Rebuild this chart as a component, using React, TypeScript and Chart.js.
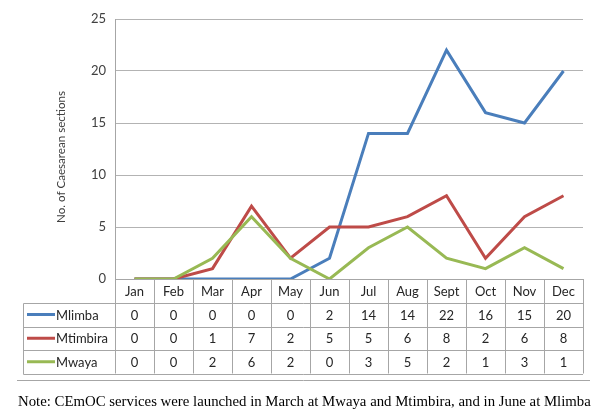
import React, { useEffect, useRef } from "react";
import { Chart, registerables } from "chart.js";

Chart.register(...registerables);

const months = ["Jan", "Feb", "Mar", "Apr", "May", "Jun", "Jul", "Aug", "Sept", "Oct", "Nov", "Dec"];
const mlimba = [0, 0, 0, 0, 0, 2, 14, 14, 22, 16, 15, 20];
const mtimbira = [0, 0, 1, 7, 2, 5, 5, 6, 8, 2, 6, 8];
const mwaya = [0, 0, 2, 6, 2, 0, 3, 5, 2, 1, 3, 1];
const seriesNames = ["Mlimba", "Mtimbira", "Mwaya"];
const seriesColors = ["#4A7EBB", "#BE4B48", "#98B954"];
const yTitle = "No. of Caesarean sections";
const note = "Note: CEmOC services were launched in March at Mwaya and Mtimbira, and in June at Mlimba";

const FONT = "Lato, 'Open Sans', sans-serif";

const tablePlugin = {
  id: "dataTable",
  afterDraw(chart: any) {
    const ctx = chart.ctx as CanvasRenderingContext2D;
    const x = chart.scales.x;
    const area = chart.chartArea;
    const series = [mlimba, mtimbira, mwaya];
    const left = area.left;
    const right = area.right;
    const top = area.bottom;
    const rowH = [23.5, 24, 23.5, 23.5];
    const rowsY = [top];
    for (const h of rowH) rowsY.push(rowsY[rowsY.length - 1] + h);
    const legendLeft = 23.5;
    const colW = (right - left) / months.length;

    ctx.save();
    ctx.save();
    ctx.translate(61, 157);
    ctx.rotate(-Math.PI / 2);
    ctx.font = `11.6px ${FONT}`;
    ctx.fillStyle = "#404040";
    ctx.textAlign = "center";
    ctx.textBaseline = "middle";
    ctx.fillText(yTitle, 0, 0);
    ctx.restore();

    ctx.strokeStyle = "#A6A6A6";
    ctx.lineWidth = 1;
    ctx.beginPath();
    ctx.moveTo(left, Math.round(rowsY[0]) + 0.5);
    ctx.lineTo(right, Math.round(rowsY[0]) + 0.5);
    for (let r = 1; r < rowsY.length; r++) {
      const yy = Math.round(rowsY[r]) + 0.5;
      ctx.moveTo(legendLeft, yy);
      ctx.lineTo(right, yy);
    }
    for (let i = 0; i <= months.length; i++) {
      const xx = Math.round(left + i * colW) + 0.5;
      ctx.moveTo(xx, rowsY[0]);
      ctx.lineTo(xx, rowsY[rowsY.length - 1]);
    }
    ctx.moveTo(legendLeft, Math.round(rowsY[1]) + 0.5);
    ctx.lineTo(legendLeft, Math.round(rowsY[rowsY.length - 1]) + 0.5);
    ctx.stroke();

    ctx.font = `13px ${FONT}`;
    ctx.textBaseline = "middle";
    ctx.fillStyle = "#262626";
    ctx.textAlign = "center";
    months.forEach((m, i) => {
      const cx = x.getPixelForValue(i);
      ctx.fillText(m, cx, (rowsY[0] + rowsY[1]) / 2 + 1);
    });
    series.forEach((vals, r) => {
      const cy = (rowsY[r + 1] + rowsY[r + 2]) / 2 + 1;
      ctx.textAlign = "center";
      ctx.fillStyle = "#262626";
      vals.forEach((v, i) => {
        ctx.fillText(String(v), x.getPixelForValue(i), cy);
      });
      ctx.strokeStyle = seriesColors[r];
      ctx.lineWidth = 3;
      ctx.beginPath();
      ctx.moveTo(27, cy - 1);
      ctx.lineTo(55, cy - 1);
      ctx.stroke();
      ctx.textAlign = "left";
      ctx.fillText(seriesNames[r], 56, cy);
    });

    ctx.strokeStyle = "#A6A6A6";
    ctx.lineWidth = 1;
    ctx.beginPath();
    ctx.moveTo(17, 380.5);
    ctx.lineTo(590, 380.5);
    ctx.stroke();
    ctx.restore();
  },
};

export default function App() {
  const ref = useRef<HTMLCanvasElement>(null);
  useEffect(() => {
    if (!ref.current) return;
    const chart = new Chart(ref.current, {
      type: "line",
      data: {
        labels: months,
        datasets: [
          { label: seriesNames[0], data: mlimba, borderColor: seriesColors[0], order: 3 },
          { label: seriesNames[1], data: mtimbira, borderColor: seriesColors[1], order: 2 },
          { label: seriesNames[2], data: mwaya, borderColor: seriesColors[2], order: 1 },
        ].map((d) => ({
          ...d,
          borderWidth: 3,
          pointRadius: 0,
          tension: 0,
          fill: false,
          backgroundColor: d.borderColor,
        })),
      },
      options: {
        animation: false,
        responsive: false,
        maintainAspectRatio: false,
        layout: { padding: { left: 0, right: 17, top: 19, bottom: 137 } },
        plugins: { legend: { display: false }, tooltip: { enabled: false } },
        scales: {
          x: {
            display: false,
            offset: true,
          },
          y: {
            min: 0,
            max: 25,
            ticks: { stepSize: 5, color: "#404040", font: { family: FONT, size: 13 }, padding: 9 },
            grid: { color: "#B3B3B3", drawTicks: false },
            border: { display: true, color: "#A6A6A6" },
            title: { display: false },
            afterFit(scale: any) {
              scale.width = 115;
            },
          },
        },
      },
      plugins: [tablePlugin],
    });
    return () => chart.destroy();
  }, []);
  return (
    <div style={{ position: "absolute", left: 0, top: 0, width: 600, height: 416, background: "#fff" }}>
      <canvas ref={ref} width={600} height={416} style={{ display: "block", width: 600, height: 416 }} />
      <div
        style={{
          position: "absolute",
          left: 18,
          top: 393,
          fontFamily: "'Liberation Serif', 'Times New Roman', serif",
          fontSize: 14.8,
          lineHeight: "17px",
          color: "#000",
          whiteSpace: "nowrap",
        }}
      >
        {note}
      </div>
    </div>
  );
}
